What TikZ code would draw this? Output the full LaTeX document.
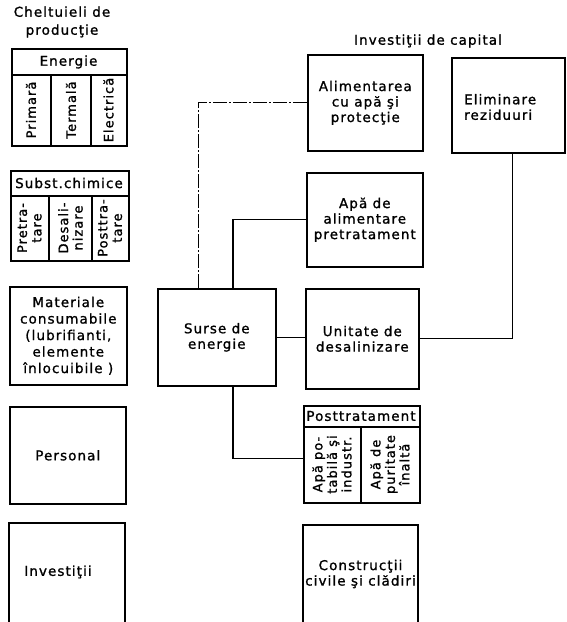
\documentclass[tikz,border=0pt]{standalone}
\usepackage{fontspec}
\setmainfont{DejaVu Sans}[LetterSpace=8,FakeBold=1.2]
\newcommand\myfs{\fontsize{13.5}{15.5}\selectfont}
\newcommand\myttl{\fontsize{13.5}{18}\selectfont}
\newcommand\mymat{\fontsize{13.5}{16.5}\selectfont}
\newcommand\mysm{\fontsize{13}{14.5}\selectfont}
\begin{document}
\begin{tikzpicture}[x=1pt,y=-1pt,
  box/.style={draw,line width=1.6pt,inner sep=0pt,align=center,font=\myfs},
  lbl/.style={inner sep=0pt,align=center,font=\myfs},
  rot/.style={inner sep=0pt,align=center,font=\mysm,rotate=90},
  sep/.style={line width=1.2pt},
  conn/.style={line width=1.1pt},
  dd/.style={line width=1pt,dash pattern=on 14pt off 2pt on 2pt off 2pt}]
\useasboundingbox (0,0) rectangle (566,622);
% titles
\node[lbl,font=\myttl] (t1) at (62,22) {Cheltuieli de\\producţie};
\node[lbl] (t2) at (428,41) {Investiţii de capital};
% Energie
\node[box,minimum width=115pt,minimum height=97pt,anchor=north west] (en) at (11,48) {};
\draw[sep] (11,75) -- (126,75);
\draw[sep] (51,75) -- (51,145);
\draw[sep] (91,75) -- (91,145);
\node[lbl] (enh) at (68.5,62) {Energie};
\node[rot] (en1) at (31,110) {Primară};
\node[rot] (en2) at (71,110) {Termală};
\node[rot] (en3) at (108.5,110) {Electrică};
% Subst. chimice
\node[box,minimum width=118pt,minimum height=90pt,anchor=north west] (sc) at (10,170) {};
\draw[sep] (10,196) -- (128,196);
\draw[sep] (49,196) -- (49,260);
\draw[sep] (92,196) -- (92,260);
\node[lbl] (sch) at (69,183) {Subst.chimice};
\node[rot] (sc1) at (29.5,228) {Pretra-\\tare};
\node[rot] (sc2) at (70.5,228) {Desali-\\nizare};
\node[rot] (sc3) at (110,228) {Posttra-\\tare};
% Materiale
\node[box,minimum width=117pt,minimum height=98pt,anchor=north west] (mat) at (9,286) {};
\node[lbl,font=\mymat] (matt) at (mat.center) {Materiale\\consumabile\\(lubrifianti,\\elemente\\înlocuibile )};
% Personal
\node[box,minimum width=116pt,minimum height=97pt,anchor=north west] (pers) at (9,406) {Personal};
% Investitii (open at bottom)
\coordinate (invsw) at (9,622);
\coordinate (invne) at (125,523);
\draw[line width=1.6pt] (invsw) |- (invne) -- (invne |- invsw);
\node[lbl] (inv) at (58,572) {Investiţii};
% Surse de energie
\node[box,minimum width=118pt,minimum height=97pt,anchor=north west] (surse) at (157,288) {Surse de\\energie};
% right column
\node[box,minimum width=115pt,minimum height=96pt,anchor=north west] (alim) at (307,54) {Alimentarea\\cu apă şi\\protecţie};
\node[box,minimum width=116pt,minimum height=94pt,anchor=north west] (apa) at (306,172) {Apă de\\alimentare\\pretratament};
\node[box,minimum width=113pt,minimum height=100pt,anchor=north west] (unit) at (305,288) {Unitate de\\desalinizare};
\node[box,minimum width=116pt,minimum height=97pt,anchor=north west] (post) at (303,405) {};
\draw[sep] (303,427) -- (419,427);
\draw[sep] (361,427) -- (361,502);
\node[lbl] (posth) at (361,416) {Posttratament};
\node[rot] (post1) at (332,464.5) {Apă po-\\tabilă şi\\industr.};
\node[rot] (post2) at (390,464.5) {Apă de\\puritate\\înaltă};
% Constructii (open at bottom)
\coordinate (consw) at (303,622);
\coordinate (conne) at (418,525);
\draw[line width=1.6pt] (consw) |- (conne) -- (conne |- consw);
\node[lbl] (cons) at (360.5,574) {Construcţii\\civile şi clădiri};
% Eliminare
\node[box,minimum width=113pt,minimum height=95pt,anchor=north west] (elim) at (451,57) {};
\node[lbl,align=left,anchor=west] (elimt) at (464,107) {Eliminare\\reziduuri};
% connectors
\draw[dd] ([xshift=41pt]surse.north west) |- (alim.west);
\draw[conn] ([xshift=76pt]surse.north west) |- (apa.west);
\draw[conn] (surse.east) -- (surse.east -| unit.west);
\draw[conn] ([xshift=76pt]surse.south west) |- ([yshift=-4pt]post.west);
\draw[conn] (unit.east) -| ([xshift=4pt]elim.south);
\end{tikzpicture}
\end{document}
